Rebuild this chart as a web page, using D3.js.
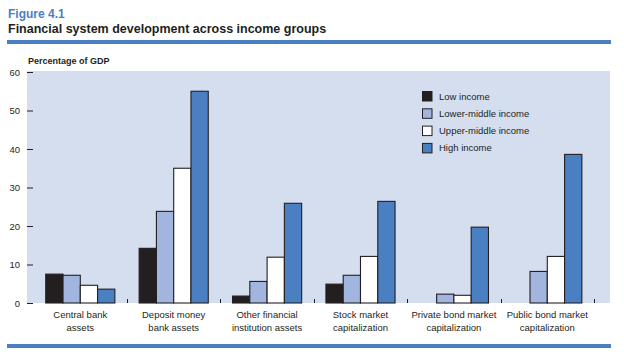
<!DOCTYPE html>
<html><head><meta charset="utf-8">
<script src="https://cdn.jsdelivr.net/npm/d3@7"></script>
<style>body{margin:0;background:#fff}svg{display:block}text{font-family:"Liberation Sans",Arial,sans-serif}</style>
</head><body>
<script>
const categories = [
  ["Central bank","assets"],
  ["Deposit money","bank assets"],
  ["Other financial","institution assets"],
  ["Stock market","capitalization"],
  ["Private bond market","capitalization"],
  ["Public bond market","capitalization"]
];
const seriesNames = ["Low income","Lower-middle income","Upper-middle income","High income"];
const lowIncome         = [7.5, 14.2, 1.8, 4.9, null, null];
const lowerMiddleIncome = [7.2, 23.8, 5.6, 7.2, 2.3, 8.2];
const upperMiddleIncome = [4.6, 35.0, 11.9, 12.1, 2.0, 12.1];
const highIncome        = [3.6, 55.0, 25.9, 26.4, 19.7, 38.6];
const yTicks = [0,10,20,30,40,50,60];
const colors = ["#231f20","#a2b5de","#ffffff","#4a80c2"];

const series = [lowIncome, lowerMiddleIncome, upperMiddleIncome, highIncome];
const W = 624, H = 358;
const svg = d3.select("body").append("svg").attr("width",W).attr("height",H);

// Header
svg.append("text").attr("x",8).attr("y",18).attr("font-size",12).attr("font-weight","bold")
  .attr("fill","#4a80c2").text("Figure 4.1");
svg.append("text").attr("x",8).attr("y",33).attr("font-size",12.5).attr("font-weight","bold")
  .attr("fill","#231f20").text("Financial system development across income groups");
svg.append("rect").attr("x",7).attr("y",40).attr("width",604).attr("height",4).attr("fill","#4a80c2");
svg.append("rect").attr("x",7).attr("y",344).attr("width",604).attr("height",4).attr("fill","#4a80c2");

// Plot
const plotL = 27, plotR = 610, plotT = 71, plotB = 303;
svg.append("rect").attr("x",plotL).attr("y",plotT).attr("width",plotR-plotL).attr("height",plotB-plotT).attr("fill","#d5deef");

svg.append("text").attr("x",28).attr("y",64).attr("font-size",9).attr("font-weight","bold")
  .attr("fill","#231f20").text("Percentage of GDP");

const y = d3.scaleLinear().domain([0,60]).range([303,72]);
const x0 = d3.scaleBand().domain(d3.range(categories.length)).range([33.6,594]).paddingInner(0.26).paddingOuter(0.13);
const x1 = d3.scaleBand().domain(d3.range(series.length)).range([0,x0.bandwidth()]);

// Y axis
const yAxis = svg.append("g").attr("transform",`translate(${plotL},0)`)
  .call(d3.axisRight(y).tickValues(yTicks).tickSize(6).tickFormat(d3.format("d")));
yAxis.select(".domain").remove();
yAxis.selectAll(".tick line").attr("stroke","#231f20").attr("stroke-width",1);
yAxis.selectAll(".tick text").attr("x",-7).attr("text-anchor","end").attr("font-size",9.5)
  .attr("fill","#231f20").attr("font-family","Liberation Sans, Arial, sans-serif");

// Category boundary ticks
const step = x0.step();
const bounds = d3.range(1, categories.length+1).map(i => x0(i-1) + x0.bandwidth() + (step - x0.bandwidth())/2);
svg.append("g").selectAll("line").data(bounds).join("line")
  .attr("x1",d=>Math.round(d)+0.5).attr("x2",d=>Math.round(d)+0.5)
  .attr("y1",299).attr("y2",303).attr("stroke","#231f20").attr("stroke-width",1);

// Bars
const g = svg.append("g");
categories.forEach((c,ci) => {
  series.forEach((s,si) => {
    const v = s[ci];
    if (v == null) return;
    g.append("rect")
      .attr("x", x0(ci) + x1(si))
      .attr("y", y(v))
      .attr("width", x1.bandwidth())
      .attr("height", y(0) - y(v))
      .attr("fill", colors[si])
      .attr("stroke", "#231f20").attr("stroke-width", 1.1);
  });
});

// Category labels
const xl = svg.append("g");
categories.forEach((c,ci) => {
  const cx = x0(ci) + x0.bandwidth()/2;
  const t = xl.append("text").attr("x",cx).attr("y",318).attr("text-anchor","middle")
    .attr("font-size",9.5).attr("fill","#231f20");
  c.forEach((line,li) => t.append("tspan").attr("x",cx).attr("dy", li===0?0:12.5).text(line));
});

// Legend
const lg = svg.append("g").attr("transform","translate(422,91)");
seriesNames.forEach((n,i) => {
  const row = lg.append("g").attr("transform",`translate(0,${i*17.3})`);
  row.append("rect").attr("x",0.5).attr("y",0.5).attr("width",9.5).attr("height",9.5)
    .attr("fill",colors[i]).attr("stroke","#231f20").attr("stroke-width",1);
  row.append("text").attr("x",17).attr("y",8.5).attr("font-size",9.5).attr("fill","#231f20").text(n);
});
</script>
</body></html>
